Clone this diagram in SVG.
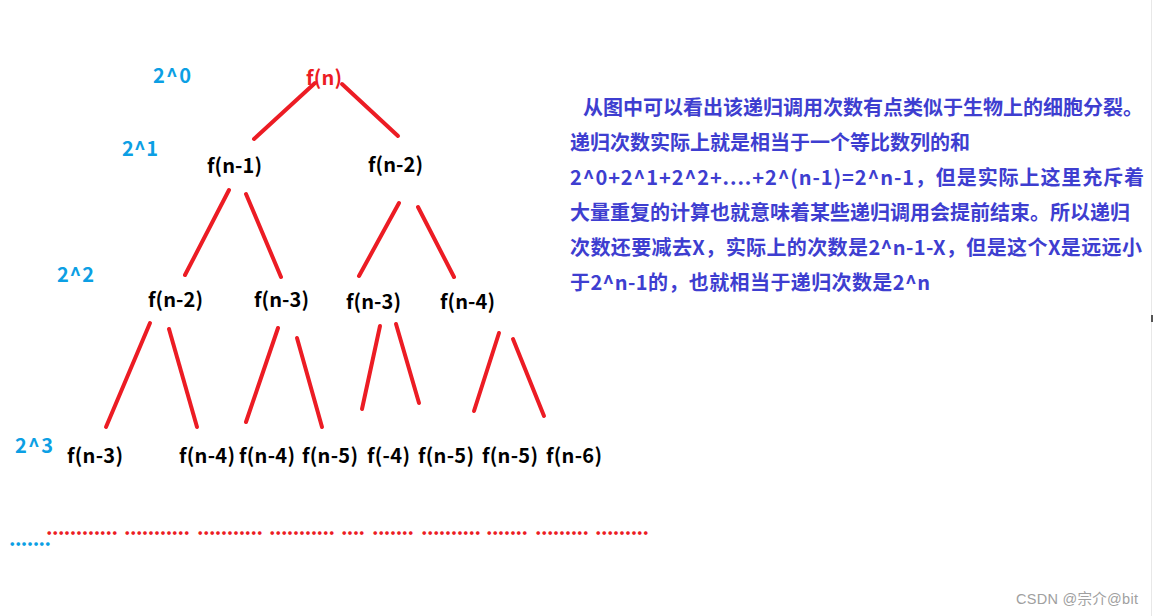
<svg xmlns="http://www.w3.org/2000/svg" width="1153" height="616" viewBox="0 0 1153 616">
<style>
text{font-family:"Noto Sans CJK SC","Noto Sans",sans-serif;font-weight:bold;font-size:20px}
.n{fill:#000}
.r{fill:#ec1c24}
.lv{fill:#0c9fe4}
.d{fill:#3e3ed0}
.w{font-family:"Liberation Sans","Noto Sans CJK SC",sans-serif;font-weight:normal;font-size:14.5px;fill:#a0a0a0}
.e{stroke:#ec1c24;stroke-width:4;stroke-linecap:round;fill:none}
</style>
<rect width="1153" height="616" fill="#fff"/>
<line x1="1151.5" y1="0" x2="1151.5" y2="616" stroke="#e8e8e8" stroke-width="1"/>
<line x1="1152" y1="315" x2="1152" y2="322" stroke="#555" stroke-width="2"/>

<g id="levels">
<text class="lv" x="153" y="83" textLength="38" lengthAdjust="spacing">2^0</text>
<text class="lv" x="122" y="156" textLength="36" lengthAdjust="spacing">2^1</text>
<text class="lv" x="57" y="282" textLength="37" lengthAdjust="spacing">2^2</text>
<text class="lv" x="15" y="453" textLength="38" lengthAdjust="spacing">2^3</text>
</g>

<g id="n0"><text class="r" x="306" y="85" textLength="36" lengthAdjust="spacing">f(n)</text></g>
<g id="n1"><text class="n" x="207" y="173" textLength="55" lengthAdjust="spacing">f(n-1)</text></g>
<g id="n2"><text class="n" x="368" y="172" textLength="55" lengthAdjust="spacing">f(n-2)</text></g>
<g id="n3"><text class="n" x="148" y="307" textLength="55" lengthAdjust="spacing">f(n-2)</text></g>
<g id="n4"><text class="n" x="254" y="307" textLength="55" lengthAdjust="spacing">f(n-3)</text></g>
<g id="n5"><text class="n" x="346" y="309" textLength="55" lengthAdjust="spacing">f(n-3)</text></g>
<g id="n6"><text class="n" x="440" y="309" textLength="55" lengthAdjust="spacing">f(n-4)</text></g>
<g id="n7"><text class="n" x="67" y="463" textLength="56" lengthAdjust="spacing">f(n-3)</text></g>
<g id="n8"><text class="n" x="179" y="463" textLength="56" lengthAdjust="spacing">f(n-4)</text></g>
<g id="n9"><text class="n" x="239" y="463" textLength="56" lengthAdjust="spacing">f(n-4)</text></g>
<g id="n10"><text class="n" x="302" y="463" textLength="56" lengthAdjust="spacing">f(n-5)</text></g>
<g id="n11"><text class="n" x="367" y="463" textLength="43" lengthAdjust="spacing">f(-4)</text></g>
<g id="n12"><text class="n" x="418" y="463" textLength="56" lengthAdjust="spacing">f(n-5)</text></g>
<g id="n13"><text class="n" x="482" y="463" textLength="56" lengthAdjust="spacing">f(n-5)</text></g>
<g id="n14"><text class="n" x="546" y="463" textLength="56" lengthAdjust="spacing">f(n-6)</text></g>

<g id="connectors" class="e">
<line x1="315" y1="83" x2="254" y2="139"/>
<line x1="342" y1="84" x2="398" y2="136"/>
<line x1="229" y1="190" x2="185" y2="275"/>
<line x1="246" y1="194" x2="281" y2="277"/>
<line x1="399" y1="203" x2="359" y2="276"/>
<line x1="418" y1="207" x2="454" y2="277"/>
<line x1="150" y1="323" x2="106" y2="427"/>
<line x1="169" y1="329" x2="197" y2="427"/>
<line x1="278" y1="328" x2="246" y2="422"/>
<line x1="297" y1="338" x2="322" y2="427"/>
<line x1="380" y1="326" x2="362" y2="409"/>
<line x1="396" y1="324" x2="419" y2="403"/>
<line x1="499" y1="333" x2="474" y2="411"/>
<line x1="513" y1="339" x2="544" y2="416"/>
</g>

<g id="dots">
<text class="lv" x="9" y="546" textLength="42" lengthAdjust="spacing">.......</text>
<text class="r" x="46" y="535" textLength="72" lengthAdjust="spacing">............</text>
<text class="r" x="124" y="535" textLength="66" lengthAdjust="spacing">...........</text>
<text class="r" x="197" y="535" textLength="66" lengthAdjust="spacing">...........</text>
<text class="r" x="269" y="535" textLength="66" lengthAdjust="spacing">...........</text>
<text class="r" x="341" y="535" textLength="24" lengthAdjust="spacing">....</text>
<text class="r" x="372" y="535" textLength="42" lengthAdjust="spacing">.......</text>
<text class="r" x="421" y="535" textLength="60" lengthAdjust="spacing">..........</text>
<text class="r" x="486" y="535" textLength="42" lengthAdjust="spacing">.......</text>
<text class="r" x="535" y="535" textLength="54" lengthAdjust="spacing">.........</text>
<text class="r" x="595" y="535" textLength="54" lengthAdjust="spacing">.........</text>
</g>

<g id="description">
<text class="d" x="583" y="115" textLength="560" lengthAdjust="spacing">从图中可以看出该递归调用次数有点类似于生物上的细胞分裂。</text>
<text class="d" x="570" y="150" textLength="400" lengthAdjust="spacing">递归次数实际上就是相当于一个等比数列的和</text>
<text class="d" x="570" y="185" textLength="574" lengthAdjust="spacing">2^0+2^1+2^2+....+2^(n-1)=2^n-1，但是实际上这里充斥着</text>
<text class="d" x="570" y="220" textLength="560" lengthAdjust="spacing">大量重复的计算也就意味着某些递归调用会提前结束。所以递归</text>
<text class="d" x="570" y="255" textLength="572" lengthAdjust="spacing">次数还要减去X，实际上的次数是2^n-1-X，但是这个X是远远小</text>
<text class="d" x="570" y="290" textLength="360" lengthAdjust="spacing">于2^n-1的，也就相当于递归次数是2^n</text>
</g>

<text class="w" x="1016" y="604" textLength="122" lengthAdjust="spacing">CSDN @宗介@bit</text>
</svg>
